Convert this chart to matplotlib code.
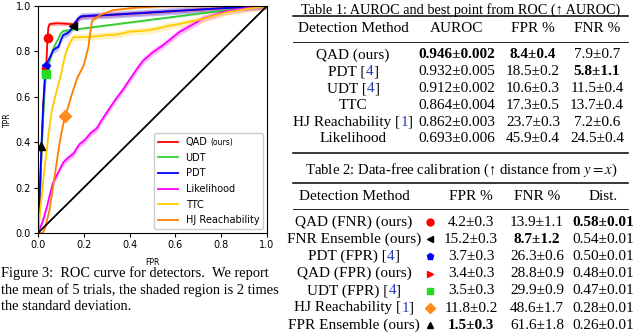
import numpy as np
import matplotlib
matplotlib.use("Agg")
import matplotlib.pyplot as plt

plt.rcParams['mathtext.fontset'] = 'stix'

SERIF = ['Liberation Serif', 'DejaVu Serif']
LINK = '#2a3cb4'

# ---- ROC curves (mean) ----
qad_x = [0, 0.008, 0.016, 0.024, 0.03, 0.034, 0.038, 0.042, 0.045, 0.05, 0.08, 0.12, 0.145, 0.152,
         0.17, 0.185, 0.22, 0.3, 0.4, 0.5, 0.6, 0.7, 0.8, 0.9, 1.0]
qad_y = [0, 0.12, 0.38, 0.58, 0.68, 0.712, 0.78, 0.861, 0.905, 0.92, 0.924, 0.922, 0.92, 0.918,
         0.935, 0.952, 0.956, 0.96, 0.966, 0.972, 0.978, 0.984, 0.99, 0.995, 1.0]

udt_x = [0, 0.01, 0.02, 0.03, 0.035, 0.045, 0.052, 0.067, 0.08, 0.089, 0.1, 0.11, 0.824, 0.9, 1.0]
udt_y = [0, 0.22, 0.45, 0.64, 0.70, 0.73, 0.762, 0.813, 0.84, 0.855, 0.88, 0.89, 0.982, 0.99, 1.0]

pdt_x = [0, 0.005, 0.01, 0.015, 0.022, 0.03, 0.035, 0.04, 0.05, 0.067, 0.08, 0.089, 0.1, 0.11,
         0.125, 0.135, 0.147, 0.16, 0.175, 0.19, 0.25, 0.3, 0.4, 0.5, 0.6, 0.7, 0.8, 0.9, 1.0]
pdt_y = [0, 0.1, 0.25, 0.38, 0.55, 0.68, 0.737, 0.75, 0.77, 0.806, 0.815, 0.82, 0.85, 0.872,
         0.878, 0.885, 0.9, 0.924, 0.945, 0.955, 0.958, 0.96, 0.966, 0.972, 0.978, 0.984, 0.99, 0.995, 1.0]

lik_x = [0, 0.02, 0.04, 0.052, 0.065, 0.09, 0.11, 0.13, 0.155, 0.18, 0.205, 0.23, 0.256, 0.28, 0.31,
         0.34, 0.37, 0.40, 0.43, 0.46, 0.5, 0.547, 0.58, 0.62, 0.67, 0.72, 0.77, 0.81, 0.9, 1.0]
lik_y = [0, 0.05, 0.12, 0.17, 0.22, 0.27, 0.31, 0.33, 0.35, 0.39, 0.41, 0.44, 0.46, 0.50, 0.545,
         0.59, 0.63, 0.675, 0.72, 0.76, 0.795, 0.828, 0.855, 0.887, 0.915, 0.945, 0.96, 0.975, 0.99, 1.0]

ttc_x = [0, 0.005, 0.012, 0.022, 0.03, 0.038, 0.045, 0.06, 0.075, 0.09, 0.103, 0.115, 0.125, 0.14,
         0.154, 0.227, 0.27, 0.3, 0.344, 0.4, 0.45, 0.49, 0.54, 0.576, 0.605, 0.65, 0.707, 0.76, 0.824, 0.9, 1.0]
ttc_y = [0, 0.05, 0.12, 0.22, 0.3, 0.36, 0.43, 0.54, 0.6, 0.66, 0.71, 0.77, 0.806, 0.84,
         0.862, 0.865, 0.868, 0.872, 0.874, 0.887, 0.89, 0.894, 0.905, 0.914, 0.918, 0.928, 0.94, 0.955, 0.972, 0.985, 1.0]

hj_x = [0, 0.02, 0.03, 0.04, 0.05, 0.065, 0.08, 0.095, 0.105, 0.118, 0.13, 0.147, 0.17, 0.2, 0.21,
        0.22, 0.228, 0.236, 0.27, 0.33, 0.43, 0.55, 1.0]
hj_y = [0, 0.0, 0.02, 0.06, 0.1, 0.2, 0.3, 0.4, 0.455, 0.514, 0.55, 0.608, 0.68, 0.74, 0.78,
        0.82, 0.88, 0.935, 0.96, 0.982, 0.993, 0.999, 1.0]

curve_labels = ["QAD", "UDT", "PDT", "Likelihood", "TTC", "HJ Reachability"]
curve_x = [qad_x, udt_x, pdt_x, lik_x, ttc_x, hj_x]
curve_y = [qad_y, udt_y, pdt_y, lik_y, ttc_y, hj_y]
curve_colors = ['#ff0000', '#33cc33', '#0000ff', '#ff00ff', '#ffcc00', '#ff8000']
curve_band = [0.01, 0.005, 0.015, 0.015, 0.015, 0.006]  # 2 std half-width

# ---- Table 1 ----
t1_methods = [["QAD (ours)"], ["PDT [", "4", "]"], ["UDT [", "4", "]"], ["TTC"],
              ["HJ Reachability [", "1", "]"], ["Likelihood"]]
t1_auroc = [0.946, 0.932, 0.912, 0.864, 0.862, 0.693]
t1_auroc_sd = [0.002, 0.005, 0.002, 0.004, 0.003, 0.006]
t1_fpr = [8.4, 18.5, 10.6, 17.3, 23.7, 45.9]
t1_fpr_sd = [0.4, 0.2, 0.3, 0.5, 0.3, 0.4]
t1_fnr = [7.9, 5.8, 11.5, 13.7, 7.2, 24.5]
t1_fnr_sd = [0.7, 1.1, 0.4, 0.4, 0.6, 0.4]

# ---- Table 2 ----
t2_methods = [["QAD (FNR) (ours)"], ["FNR Ensemble (ours)"], ["PDT (FPR) [", "4", "]"],
              ["QAD (FPR) (ours)"], ["UDT (FPR) [", "4", "]"], ["HJ Reachability [", "1", "]"],
              ["FPR Ensemble (ours)"]]
t2_fpr = [4.2, 15.2, 3.7, 3.4, 3.5, 11.8, 1.5]
t2_fpr_sd = [0.3, 0.3, 0.3, 0.3, 0.3, 0.2, 0.3]
t2_fnr = [13.9, 8.7, 26.3, 28.8, 29.9, 48.6, 61.6]
t2_fnr_sd = [1.1, 1.2, 0.6, 0.9, 0.9, 1.7, 1.8]
t2_dist = [0.58, 0.54, 0.50, 0.48, 0.47, 0.28, 0.26]
t2_dist_sd = [0.01, 0.01, 0.01, 0.01, 0.01, 0.01, 0.01]
t2_markers = ['o', '<', 'p', '>', 's', 'D', '^']
t2_colors = ['#ff0000', 'black', '#0000ff', '#ff0000', '#22dd22', '#ff8c1a', 'black']

BODY = 11

fig = plt.figure(figsize=(6.4, 3.35), dpi=100)

# ---------------- ROC plot ----------------
ax = fig.add_axes([38 / 640, 1 - 233 / 335, 229 / 640, 227 / 335])
for xs, ys, c, b, lab in zip(curve_x, curve_y, curve_colors, curve_band, curve_labels):
    xs = np.array(xs)
    ys = np.array(ys)
    ax.fill_between(xs, np.clip(ys - b, 0, 1), np.clip(ys + b, 0, 1), color=c, alpha=0.25, lw=0)
    ax.plot(xs, ys, color=c, lw=1.3, label=lab)
ax.plot([0, 1], [0, 1], color='black', lw=1.3)

for f, n, m, c in zip(t2_fpr, t2_fnr, t2_markers, t2_colors):
    ax.plot(f / 100, 1 - n / 100, marker=m, color=c, ms=6, ls='none', zorder=5)

ax.set_xlim(0, 1)
ax.set_ylim(0, 1)
ticks = [0, 0.2, 0.4, 0.6, 0.8, 1.0]
ax.set_xticks(ticks)
ax.set_yticks(ticks)
ax.tick_params(labelsize=7, length=3, pad=2)
ax.set_xlabel("FPR", fontsize=5.5, labelpad=6)
ax.set_ylabel("TPR", fontsize=5.5, labelpad=3)
leg = ax.legend(loc='lower right', fontsize=7, borderaxespad=0.4, labelspacing=0.58,
                handlelength=2.0, framealpha=1)

# overlay in pixel coordinates for caption and tables
ov = fig.add_axes([0, 0, 1, 1], zorder=-1)
ov.set_xlim(0, 640)
ov.set_ylim(335, 0)
ov.axis('off')

fig.canvas.draw()
renderer = fig.canvas.get_renderer()

# small "(ours)" after QAD in the legend
lt = leg.get_texts()[0]
bb = lt.get_window_extent(renderer)
fig.text(bb.x1 + 3, (bb.y0 + bb.y1) / 2, "(ours)", fontsize=5.5, va='center', ha='left',
         transform=None)


def rich(x, y, parts, size=BODY, weight='normal'):
    texts = []
    for i, s in enumerate(parts):
        color = LINK if (len(parts) == 3 and i == 1) else 'black'
        t = ov.text(0, y, s, fontsize=size, family=SERIF, color=color, fontweight=weight,
                    va='center', ha='left')
        texts.append(t)
    widths = [t.get_window_extent(renderer).width for t in texts]
    start = x - sum(widths) / 2
    for t, w in zip(texts, widths):
        t.set_x(start)
        start += w


def fmt(v, s, d):
    return f"{v:.{d}f}\u00b1{s:.{d}f}"


# caption
caption = ["Figure 3:  ROC curve for detectors.  We report",
           "the mean of 5 trials, the shaded region is 2 times",
           "the standard deviation."]
for i, line in enumerate(caption):
    ov.text(1, 273 + 17 * i, line, fontsize=10.4, family=SERIF, va='center', ha='left')

# Table 1
L, R = 293, 628
ov.text(461, 10, "Table 1: AUROC and best point from ROC (\u2191 AUROC)", fontsize=10.3,
        family=SERIF, ha='center', va='center')
ov.plot([L, R], [16, 16], color='black', lw=1.1)
ov.plot([L, R], [42, 42], color='black', lw=0.6)
ov.plot([L, R], [153, 153], color='black', lw=1.1)
c1 = [353, 457, 533, 597]
for x, h in zip(c1, ["Detection Method", "AUROC", "FPR %", "FNR %"]):
    ov.text(x, 29, h, fontsize=BODY, family=SERIF, ha='center', va='center')
best_auroc = int(np.argmax(t1_auroc))
best_fpr1 = int(np.argmin(t1_fpr))
best_fnr1 = int(np.argmin(t1_fnr))
for i in range(len(t1_methods)):
    y = 55 + 16.8 * i
    rich(c1[0], y, t1_methods[i])
    rich(c1[1], y, [fmt(t1_auroc[i], t1_auroc_sd[i], 3)], weight='bold' if i == best_auroc else 'normal')
    rich(c1[2], y, [fmt(t1_fpr[i], t1_fpr_sd[i], 1)], weight='bold' if i == best_fpr1 else 'normal')
    rich(c1[3], y, [fmt(t1_fnr[i], t1_fnr_sd[i], 1)], weight='bold' if i == best_fnr1 else 'normal')

# Table 2
ov.text(461, 170, "Table 2: Data-free calibration (\u2191 distance from $y = x$)", fontsize=10.6,
        family=SERIF, ha='center', va='center')
ov.plot([L, R], [183, 183], color='black', lw=1.1)
ov.plot([L, R], [209, 209], color='black', lw=0.6)
c2 = [354, 430, 471, 537, 603]
for x, h in zip([c2[0], c2[2], c2[3], c2[4]], ["Detection Method", "FPR %", "FNR %", "Dist."]):
    ov.text(x, 196.5, h, fontsize=BODY, family=SERIF, ha='center', va='center')
best_fpr2 = int(np.argmin(t2_fpr))
best_fnr2 = int(np.argmin(t2_fnr))
best_dist = int(np.argmax(t2_dist))
for i in range(len(t2_methods)):
    y = 222 + 17.2 * i
    rich(c2[0], y, t2_methods[i])
    ov.plot(c2[1], y, marker=t2_markers[i], color=t2_colors[i], ms=5, ls='none')
    rich(c2[2], y, [fmt(t2_fpr[i], t2_fpr_sd[i], 1)], weight='bold' if i == best_fpr2 else 'normal')
    rich(c2[3], y, [fmt(t2_fnr[i], t2_fnr_sd[i], 1)], weight='bold' if i == best_fnr2 else 'normal')
    rich(c2[4], y, [fmt(t2_dist[i], t2_dist_sd[i], 2)], weight='bold' if i == best_dist else 'normal')

fig.savefig("out.png", dpi=100)
